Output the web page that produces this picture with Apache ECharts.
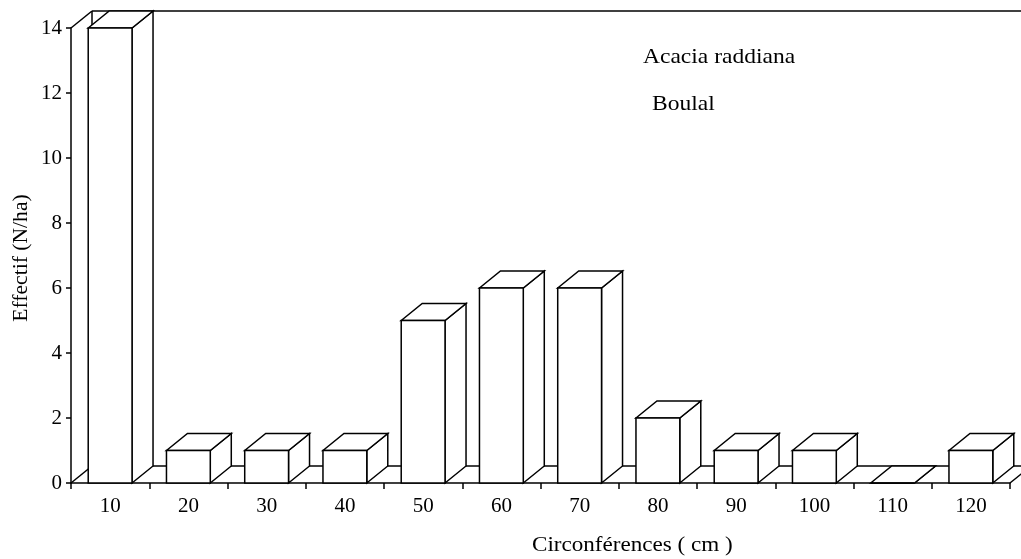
<!DOCTYPE html>
<html>
<head>
<meta charset="utf-8">
<script src="https://cdn.jsdelivr.net/npm/echarts@6/dist/echarts.min.js"></script>
<style>
html,body{margin:0;padding:0;background:#fff;}
#chart{width:1021px;height:559px;}
</style>
</head>
<body>
<div id="chart"></div>
<script>
// ---- data ----
const categories = ['10','20','30','40','50','60','70','80','90','100','110','120'];
const effectif = [14, 1, 1, 1, 5, 6, 6, 2, 1, 1, 0, 1];
const yTicks = [0, 2, 4, 6, 8, 10, 12, 14];
const yTitle = 'Effectif (N/ha)';
const xTitle = 'Circonférences ( cm )';
const note1 = 'Acacia raddiana';
const note2 = 'Boulal';

// ---- style ----
const DX = 21, DY = -17;      // 3D depth offset (pixels)
const BAR_RATIO = 0.56;
const LW = 1.5;
const FONT = '"Liberation Serif", "Times New Roman", serif';

const chart = echarts.init(document.getElementById('chart'), null, {renderer: 'canvas'});

const yMin = yTicks[0], yMax = yTicks[yTicks.length - 1], yStep = yTicks[1] - yTicks[0];

function line(x1, y1, x2, y2) {
  return {type: 'line', shape: {x1, y1, x2, y2}, style: {stroke: '#000', lineWidth: LW}, silent: true};
}

function renderFrame(params, api) {
  const band = api.size([1, 0])[0];
  const p0 = api.coord([0, yMin]);
  const pn = api.coord([categories.length - 1, yMin]);
  const pt = api.coord([0, yMax]);
  const left = p0[0] - band / 2, right = pn[0] + band / 2;
  const y0 = p0[1], yt = pt[1];
  return {
    type: 'group',
    children: [
      line(left, yt, left + DX, yt + DY),
      line(left + DX, yt + DY, right + DX, yt + DY),
      line(left + DX, yt + DY, left + DX, y0 + DY),
      line(left, y0, left + DX, y0 + DY),
      line(left + DX, y0 + DY, right + DX, y0 + DY),
      line(right, y0, right + DX, y0 + DY),
      line(right + DX, yt + DY, right + DX, y0 + DY)
    ]
  };
}

function renderBar(params, api) {
  const i = api.value(0), v = api.value(1);
  const band = api.size([1, 0])[0];
  const w = band * BAR_RATIO;
  const pb = api.coord([i, yMin]);
  const pt = api.coord([i, v]);
  const xl = pb[0] - w / 2, xr = pb[0] + w / 2, yb = pb[1], yt = pt[1];
  const st = {fill: '#fff', stroke: '#000', lineWidth: LW, lineJoin: 'miter'};
  return {
    type: 'group',
    children: [
      {type: 'polygon', shape: {points: [[xr, yb], [xr + DX, yb + DY], [xr + DX, yt + DY], [xr, yt]]}, style: st},
      {type: 'polygon', shape: {points: [[xl, yt], [xl + DX, yt + DY], [xr + DX, yt + DY], [xr, yt]]}, style: st},
      {type: 'rect', shape: {x: xl, y: yt, width: w, height: yb - yt}, style: st}
    ]
  };
}

const option = {
  backgroundColor: '#fff',
  animation: false,
  grid: {left: 71, right: 11, top: 28, bottom: 76, containLabel: false},
  xAxis: {
    type: 'category',
    data: categories,
    axisLine: {show: true, lineStyle: {color: '#000', width: LW}},
    axisTick: {show: true, length: 6, lineStyle: {color: '#000', width: LW}},
    axisLabel: {color: '#000', fontFamily: FONT, fontSize: 21, margin: 13},
    splitLine: {show: false}
  },
  yAxis: {
    type: 'value',
    min: yMin, max: yMax, interval: yStep,
    axisLine: {show: true, lineStyle: {color: '#000', width: LW}},
    axisTick: {show: true, length: 5, lineStyle: {color: '#000', width: LW}},
    axisLabel: {color: '#000', fontFamily: FONT, fontSize: 21, margin: 9},
    splitLine: {show: false}
  },
  series: [
    {type: 'custom', renderItem: renderFrame, data: [[0, 0]], z: 1, silent: true, clip: false},
    {type: 'custom', renderItem: renderBar, data: effectif.map((v, i) => [i, v]), encode: {x: 0, y: 1}, z: 2, clip: false}
  ],
  graphic: [
    {type: 'text', x: 643, y: 57, scaleX: 1.12, style: {text: note1, font: '21px ' + FONT, fill: '#000', textAlign: 'left', textVerticalAlign: 'middle'}},
    {type: 'text', x: 652, y: 104, scaleX: 1.12, style: {text: note2, font: '21px ' + FONT, fill: '#000', textAlign: 'left', textVerticalAlign: 'middle'}},
    {type: 'text', x: 532, y: 545, scaleX: 1.05, style: {text: xTitle, font: '22px ' + FONT, fill: '#000', textAlign: 'left', textVerticalAlign: 'middle'}},
    {type: 'text', x: 22, y: 258, rotation: Math.PI / 2, scaleX: 1.08, style: {text: yTitle, font: '20px ' + FONT, fill: '#000', textAlign: 'center', textVerticalAlign: 'middle'}}
  ]
};
chart.setOption(option);
</script>
</body>
</html>
